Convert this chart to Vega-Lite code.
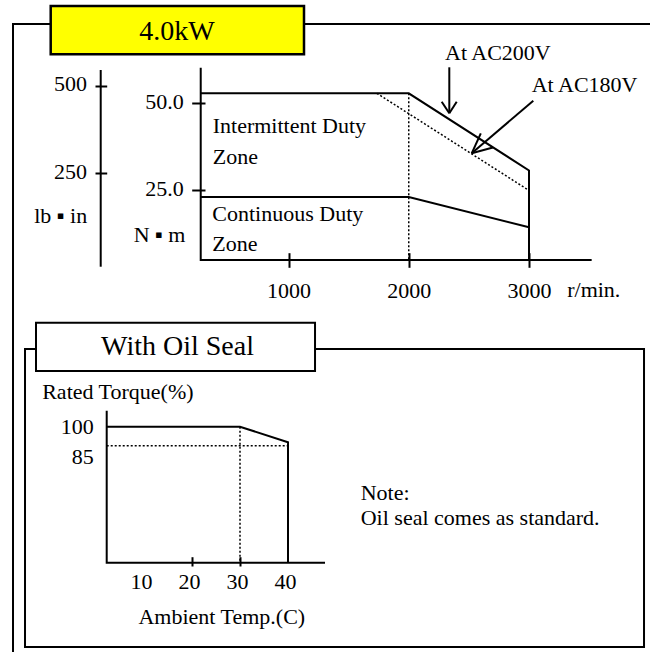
{
  "$schema": "https://vega.github.io/schema/vega-lite/v6.json",
  "width": 650,
  "height": 652,
  "autosize": {"type": "none"},
  "padding": 0,
  "background": "white",
  "config": {
    "view": {"stroke": null},
    "axis": {
      "labelFont": "Liberation Serif", "labelFontSize": 22, "labelColor": "black",
      "tickColor": "black", "tickWidth": 2, "grid": false, "domain": false,
      "titleFont": "Liberation Serif", "titleFontSize": 22, "titleFontWeight": "normal", "titleColor": "black",
      "labelOverlap": false, "labelFlush": false
    },
    "text": {"font": "Liberation Serif", "fontSize": 22, "color": "black"}
  },
  "datasets": {
    "speedTorque": [
      {"series": "N·m axis", "i": 0, "rpm": 270, "nm": 60.27},
      {"series": "N·m axis", "i": 1, "rpm": 270, "nm": 4.82},
      {"series": "N·m axis", "i": 2, "rpm": 3521, "nm": 4.82},
      {"series": "Intermittent AC200V", "i": 0, "rpm": 270, "nm": 52.88},
      {"series": "Intermittent AC200V", "i": 1, "rpm": 2000, "nm": 52.88},
      {"series": "Intermittent AC200V", "i": 2, "rpm": 3000, "nm": 30.62},
      {"series": "Intermittent AC200V", "i": 3, "rpm": 3000, "nm": 4.82},
      {"series": "Continuous", "i": 0, "rpm": 270, "nm": 22.98},
      {"series": "Continuous", "i": 1, "rpm": 2000, "nm": 22.98},
      {"series": "Continuous", "i": 2, "rpm": 3000, "nm": 14.24},
      {"series": "Intermittent AC180V", "i": 0, "rpm": 1735, "nm": 52.88},
      {"series": "Intermittent AC180V", "i": 1, "rpm": 3000, "nm": 24.86},
      {"series": "2000 r/min", "i": 0, "rpm": 2000, "nm": 52.88},
      {"series": "2000 r/min", "i": 1, "rpm": 2000, "nm": 4.82}
    ],
    "tempTorque": [
      {"series": "axes", "i": 0, "temp": 2.23, "pct": 112.63},
      {"series": "axes", "i": 1, "temp": 2.23, "pct": -7.37},
      {"series": "axes", "i": 2, "temp": 47.71, "pct": -7.37},
      {"series": "rated torque", "i": 0, "temp": 2.23, "pct": 100},
      {"series": "rated torque", "i": 1, "temp": 30, "pct": 100},
      {"series": "rated torque", "i": 2, "temp": 40, "pct": 87.68},
      {"series": "rated torque", "i": 3, "temp": 40, "pct": -7.37},
      {"series": "85% guide", "i": 0, "temp": 2.23, "pct": 85},
      {"series": "85% guide", "i": 1, "temp": 40, "pct": 85},
      {"series": "30C guide", "i": 0, "temp": 30, "pct": 100},
      {"series": "30C guide", "i": 1, "temp": 30, "pct": -7.37}
    ]
  },
  "layer": [
    {
      "encoding": {
        "x": {
          "field": "rpm", "type": "quantitative",
          "scale": {"domain": [1000, 3000], "range": [288.5, 529], "nice": false, "zero": false},
          "axis": {
            "orient": "bottom", "offset": -399.3, "values": [1000, 2000, 3000], "format": "d",
            "tickSize": 14.6, "labelPadding": 22.7, "labelBaseline": "middle",
            "title": "r/min.", "titleX": 566.7, "titleY": 36.3, "titleAlign": "left", "titleBaseline": "middle"
          }
        },
        "y": {
          "field": "nm", "type": "quantitative",
          "scale": {"domain": [25, 50], "range": [190, 103.3], "nice": false, "zero": false},
          "axis": {
            "orient": "left", "offset": -205, "values": [25, 50], "format": ".1f",
            "tickSize": 13.3, "labelPadding": 8.4, "labelOffset": -2,
            "title": "N ▪ m", "titleX": -20, "titleY": 234, "titleAlign": "right", "titleAngle": 0, "titleBaseline": "middle"
          }
        }
      },
      "layer": [
        {
          "data": {"values": [{"rpm": -1291, "nm": 72.87, "rpm2": 4089, "nm2": -111.1}]},
          "mark": {"type": "rect", "filled": false, "color": "black", "strokeWidth": 2},
          "encoding": {"x2": {"field": "rpm2"}, "y2": {"field": "nm2"}}
        },
        {
          "data": {"values": [{"rpm": -977.5, "nm": 78.06, "rpm2": 1128.9, "nm2": 64.13}]},
          "mark": {"type": "rect", "fill": "#FFFF00", "stroke": "black", "strokeWidth": 2.5},
          "encoding": {"x2": {"field": "rpm2"}, "y2": {"field": "nm2"}}
        },
        {
          "data": {"values": [{"label": "4.0kW", "rpm": 72.8, "nm": 70.7}]},
          "mark": {"type": "text", "align": "center", "baseline": "middle", "fontSize": 28},
          "encoding": {"text": {"field": "label"}}
        },
        {
          "data": {"name": "speedTorque"},
          "transform": [{"filter": {"field": "series", "oneOf": ["N·m axis", "Intermittent AC200V", "Continuous"]}}],
          "mark": {"type": "line", "color": "black", "strokeWidth": 2},
          "encoding": {"detail": {"field": "series"}, "order": {"field": "i"}}
        },
        {
          "data": {"name": "speedTorque"},
          "transform": [{"filter": {"field": "series", "oneOf": ["Intermittent AC180V", "2000 r/min"]}}],
          "mark": {"type": "line", "color": "black", "strokeWidth": 1.5, "strokeDash": [2, 2]},
          "encoding": {"detail": {"field": "series"}, "order": {"field": "i"}}
        },
        {
          "data": {"values": [
            {"arrow": "AC200V", "rpm": 2337.2, "nm": 60.38, "rpm2": 2337.2, "nm2": 47.12},
            {"arrow": "AC200V", "rpm": 2274.0, "nm": 50.46, "rpm2": 2337.2, "nm2": 47.12},
            {"arrow": "AC200V", "rpm": 2398.8, "nm": 50.46, "rpm2": 2337.2, "nm2": 47.12},
            {"arrow": "AC180V", "rpm": 3035.8, "nm": 50.75, "rpm2": 2523.5, "nm2": 35.58},
            {"arrow": "AC180V", "rpm": 2599.2, "nm": 41.35, "rpm2": 2523.5, "nm2": 35.58},
            {"arrow": "AC180V", "rpm": 2699.8, "nm": 37.28, "rpm2": 2523.5, "nm2": 35.58}
          ]},
          "mark": {"type": "rule", "color": "black", "strokeWidth": 2},
          "encoding": {"x2": {"field": "rpm2"}, "y2": {"field": "nm2"}}
        },
        {
          "data": {"values": [
            {"label": "Intermittent Duty", "rpm": 369.6, "nm": 43.4},
            {"label": "Zone", "rpm": 369.6, "nm": 34.6},
            {"label": "Continuous Duty", "rpm": 366.3, "nm": 17.99},
            {"label": "Zone", "rpm": 366.3, "nm": 9.43},
            {"label": "At AC200V", "rpm": 2301.5, "nm": 64.56},
            {"label": "At AC180V", "rpm": 3022.5, "nm": 55.42}
          ]},
          "mark": {"type": "text", "align": "left", "baseline": "middle"},
          "encoding": {"text": {"field": "label"}}
        }
      ]
    },
    {
      "data": {"values": [{"rpm": -561.7, "lbin": 544.8, "i": 0}, {"rpm": -561.7, "lbin": -16.6, "i": 1}]},
      "mark": {"type": "line", "color": "black", "strokeWidth": 2},
      "encoding": {
        "x": {"field": "rpm", "type": "quantitative", "scale": {"domain": [1000, 3000], "range": [288.5, 529], "nice": false, "zero": false}, "axis": null},
        "y": {
          "field": "lbin", "type": "quantitative",
          "scale": {"domain": [250, 500], "range": [173.3, 85.7], "nice": false, "zero": false},
          "axis": {
            "orient": "left", "offset": -106.7, "values": [250, 500], "format": "d",
            "tickSize": 11.7, "labelPadding": 8.5, "labelOffset": -2,
            "title": "lb ▪ in", "titleX": -20, "titleY": 215, "titleAlign": "right", "titleAngle": 0, "titleBaseline": "middle"
          }
        },
        "order": {"field": "i"}
      }
    },
    {
      "encoding": {
        "x": {
          "field": "temp", "type": "quantitative",
          "scale": {"domain": [10, 40], "range": [144, 288], "nice": false, "zero": false},
          "axis": {
            "orient": "bottom", "offset": -95.3, "values": [10, 20, 30, 40], "format": "d",
            "tickSize": 9.3,
            "tickOpacity": {"condition": {"test": "datum.value === 20 || datum.value === 30", "value": 1}, "value": 0},
            "labelPadding": 15.7, "labelBaseline": "middle", "labelOffset": -3,
            "title": "Ambient Temp.(C)", "titleX": 221.3, "titleY": 59.3, "titleAlign": "center", "titleBaseline": "middle"
          }
        },
        "y": {
          "field": "pct", "type": "quantitative",
          "scale": {"domain": [85, 100], "range": [445.7, 426.7], "nice": false, "zero": false},
          "axis": {
            "orient": "left", "offset": -106.7, "values": [85, 100], "format": "d",
            "tickSize": 0, "tickOpacity": 0, "labelPadding": 13.4,
            "labelOffset": {"condition": {"test": "datum.value === 85", "value": 11}, "value": 0},
            "title": "Rated Torque(%)", "titleX": -65, "titleY": 391.7, "titleAlign": "left", "titleAngle": 0, "titleBaseline": "middle"
          }
        }
      },
      "layer": [
        {
          "data": {"values": [{"temp": -14.79, "pct": 161.34, "temp2": 114.17, "pct2": -73.92}]},
          "mark": {"type": "rect", "filled": false, "color": "black", "strokeWidth": 2},
          "encoding": {"x2": {"field": "temp2"}, "y2": {"field": "pct2"}}
        },
        {
          "data": {"values": [{"temp": -12.5, "pct": 182.1, "temp2": 45.63, "pct2": 143.97}]},
          "mark": {"type": "rect", "fill": "white", "stroke": "black", "strokeWidth": 2},
          "encoding": {"x2": {"field": "temp2"}, "y2": {"field": "pct2"}}
        },
        {
          "data": {"values": [{"label": "With Oil Seal", "temp": 16.98, "pct": 163.16}]},
          "mark": {"type": "text", "align": "center", "baseline": "middle", "fontSize": 28},
          "encoding": {"text": {"field": "label"}}
        },
        {
          "data": {"name": "tempTorque"},
          "transform": [{"filter": {"field": "series", "oneOf": ["axes", "rated torque"]}}],
          "mark": {"type": "line", "color": "black", "strokeWidth": 2},
          "encoding": {"detail": {"field": "series"}, "order": {"field": "i"}}
        },
        {
          "data": {"name": "tempTorque"},
          "transform": [{"filter": {"field": "series", "oneOf": ["85% guide", "30C guide"]}}],
          "mark": {"type": "line", "color": "black", "strokeWidth": 1.5, "strokeDash": [2, 2]},
          "encoding": {"detail": {"field": "series"}, "order": {"field": "i"}}
        },
        {
          "data": {"values": [
            {"label": "Note:", "temp": 55.15, "pct": 47.42},
            {"label": "Oil seal comes as standard.", "temp": 55.15, "pct": 27.68}
          ]},
          "mark": {"type": "text", "align": "left", "baseline": "middle"},
          "encoding": {"text": {"field": "label"}}
        }
      ]
    }
  ],
  "resolve": {
    "scale": {"x": "independent", "y": "independent"},
    "axis": {"x": "independent", "y": "independent"}
  }
}
